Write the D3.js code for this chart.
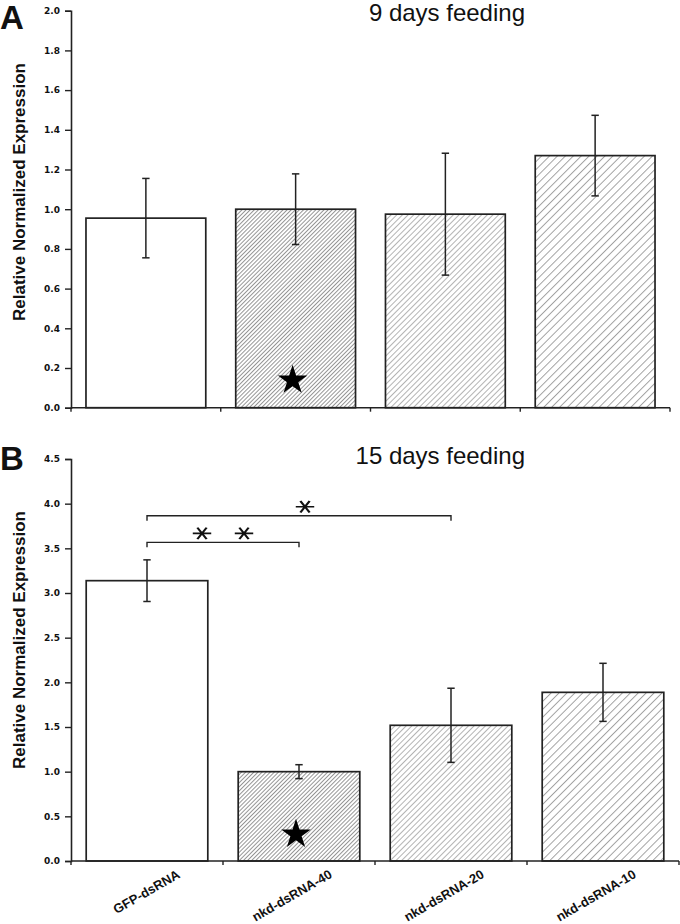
<!DOCTYPE html>
<meta charset="utf-8">
<style>
    body { margin: 0; background: #fff; }
    text { fill: #111; }
    .tick-label { font: bold 9px "DejaVu Sans", sans-serif; }
    .y-title { font: bold 17px "Liberation Sans", Arial, sans-serif; }
    .panel-title { font: 24px "Liberation Sans", Arial, sans-serif; }
    .panel-letter { font: bold 33px "Liberation Sans", Arial, sans-serif; }
    .x-label { font: bold 13px "Liberation Sans", Arial, sans-serif; }
</style>

<body>
    <script src="https://d3js.org/d3.v7.min.js"></script>
    <svg width="680" height="924"></svg>
    <script>
        // data
        var categories = ["GFP-dsRNA", "nkd-dsRNA-40", "nkd-dsRNA-20", "nkd-dsRNA-10"];
        var day9Mean = [0.955, 1.0, 0.975, 1.27];
        var day9Err = [0.20, 0.178, 0.307, 0.203];
        var day15Mean = [3.138, 1.0, 1.519, 1.888];
        var day15Err = [0.233, 0.078, 0.415, 0.325];
        var day9Ticks = [0, 0.2, 0.4, 0.6, 0.8, 1.0, 1.2, 1.4, 1.6, 1.8, 2.0];
        var day15Ticks = [0, 0.5, 1.0, 1.5, 2.0, 2.5, 3.0, 3.5, 4.0, 4.5];
        // significance brackets (panel B)
        var sigFrom = [0, 0];
        var sigTo = [1, 2];
        var sigY = [3.567, 3.865];
        var sigStars = [2, 1];
        // star markers inside nkd-dsRNA-40 bars
        var day9Star = 0.138;
        var day15Star = 0.298;

        var svg = d3.select("svg");
        var ink = "#222";

        // hatch patterns: perpendicular spacing, line colour
        var hatches = [null, [2.9, "#8a8a8a"], [4.0, "#aaaaaa"], [5.6, "#999999"]];
        var defs = svg.append("defs");
        hatches.forEach(function(h, i) {
            if (!h) return;
            var p = defs.append("pattern")
                .attr("id", "hatch" + i)
                .attr("patternUnits", "userSpaceOnUse")
                .attr("width", h[0])
                .attr("height", h[0])
                .attr("patternTransform", "rotate(45)");
            p.append("rect").attr("width", h[0]).attr("height", h[0]).attr("fill", "#fff");
            p.append("line")
                .attr("x1", 0.5).attr("y1", 0)
                .attr("x2", 0.5).attr("y2", h[0])
                .attr("stroke", h[1])
                .attr("stroke-width", 0.9);
        });

        function panel(opt) {
            var x = d3.scaleBand()
                .domain(categories)
                .range([opt.left, opt.right])
                .paddingInner(0.2)
                .paddingOuter(0.1);
            var y = d3.scaleLinear().domain(opt.domain).range([opt.bottom, opt.top]);
            var g = svg.append("g");

            // left axis
            g.append("g")
                .attr("transform", "translate(" + opt.left + ",0)")
                .call(d3.axisLeft(y).tickValues(opt.ticks).tickFormat(d3.format(".1f")).tickSizeOuter(0).tickSize(6).tickPadding(5))
                .call(function(a) {
                    a.select(".domain").attr("stroke", ink).attr("stroke-width", 1.6);
                    a.selectAll(".tick line").attr("stroke", ink).attr("stroke-width", 1.4);
                    a.selectAll("text").attr("class", "tick-label").attr("fill", "#111");
                });

            // bars
            var data = categories.map(function(c, i) {
                return { cat: c, v: opt.mean[i], e: opt.err[i], i: i };
            });
            g.selectAll(".bar")
                .data(data)
                .enter().append("rect")
                .attr("class", "bar")
                .attr("x", function(d) { return x(d.cat); })
                .attr("y", function(d) { return y(d.v); })
                .attr("width", x.bandwidth())
                .attr("height", function(d) { return y(0) - y(d.v); })
                .attr("fill", function(d) { return d.i === 0 ? "#fff" : "url(#hatch" + d.i + ")"; })
                .attr("stroke", ink)
                .attr("stroke-width", 1.7);

            // bottom axis line with ticks at band boundaries
            var step = x.step();
            var bounds = d3.range(categories.length + 1).map(function(k) {
                return x(categories[0]) - step * 0.1 + k * step;
            });
            g.append("line")
                .attr("x1", opt.left).attr("x2", opt.right)
                .attr("y1", y(0)).attr("y2", y(0))
                .attr("stroke", ink).attr("stroke-width", 1.6);
            g.selectAll(".xtick")
                .data(bounds)
                .enter().append("line")
                .attr("x1", function(d) { return d; })
                .attr("x2", function(d) { return d; })
                .attr("y1", y(0)).attr("y2", y(0) + 4)
                .attr("stroke", ink).attr("stroke-width", 1.4);

            // error bars
            var cx = function(d) { return x(d.cat) + x.bandwidth() / 2; };
            var eg = g.selectAll(".err").data(data).enter().append("g").attr("class", "err");
            eg.append("line")
                .attr("x1", cx).attr("x2", cx)
                .attr("y1", function(d) { return y(d.v + d.e); })
                .attr("y2", function(d) { return y(d.v - d.e); })
                .attr("stroke", ink).attr("stroke-width", 1.5);
            [1, -1].forEach(function(s) {
                eg.append("line")
                    .attr("x1", function(d) { return cx(d) - 3.7; })
                    .attr("x2", function(d) { return cx(d) + 3.7; })
                    .attr("y1", function(d) { return y(d.v + s * d.e); })
                    .attr("y2", function(d) { return y(d.v + s * d.e); })
                    .attr("stroke", ink).attr("stroke-width", 1.5);
            });

            // star marker
            g.append("path")
                .attr("d", d3.symbol().type(d3.symbolStar).size(270)())
                .attr("transform", "translate(" + (cx(data[1]) - 3) + "," + y(opt.star) + ")")
                .attr("fill", "#000");

            // titles
            g.append("text")
                .attr("class", "y-title")
                .attr("text-anchor", "middle")
                .attr("transform", "translate(25," + opt.labelY + ")rotate(-90)")
                .text("Relative Normalized Expression");
            g.append("text")
                .attr("class", "panel-title")
                .attr("text-anchor", "end")
                .attr("x", 525)
                .attr("y", opt.titleY)
                .text(opt.title);
            g.append("text")
                .attr("class", "panel-letter")
                .attr("x", 0)
                .attr("y", opt.letterY)
                .text(opt.letter);

            return { g: g, x: x, y: y, cx: function(i) { return cx(data[i]); } };
        }

        var a = panel({
            left: 71, right: 670, top: 10.7, bottom: 407.7,
            domain: [0, 2], ticks: day9Ticks,
            mean: day9Mean, err: day9Err, star: day9Star,
            title: "9 days feeding", titleY: 21, letter: "A", letterY: 29, labelY: 192
        });

        var b = panel({
            left: 71, right: 679, top: 459, bottom: 861,
            domain: [0, 4.5], ticks: day15Ticks,
            mean: day15Mean, err: day15Err, star: day15Star,
            title: "15 days feeding", titleY: 464, letter: "B", letterY: 470, labelY: 640
        });

        // category labels under panel B
        b.g.selectAll(".x-label")
            .data(categories)
            .enter().append("text")
            .attr("class", "x-label")
            .attr("text-anchor", "end")
            .attr("transform", function(d, i) {
                return "translate(" + (b.cx(i) + 34) + "," + (b.y(0) + 16) + ")rotate(-30)";
            })
            .text(function(d) { return d; });

        // significance brackets
        var asterisk = d3.symbol().type(d3.symbolAsterisk).size(240)();
        sigY.forEach(function(v, k) {
            var x1 = b.cx(sigFrom[k]), x2 = b.cx(sigTo[k]), yy = b.y(v);
            b.g.append("path")
                .attr("d", "M" + x1 + "," + (yy + 5) + "V" + yy + "H" + x2 + "V" + (yy + 5))
                .attr("fill", "none")
                .attr("stroke", ink)
                .attr("stroke-width", 1.4);
            var mid = (x1 + x2) / 2;
            var xs = sigStars[k] === 2 ? [mid - 21, mid + 21] : [mid + 6];
            xs.forEach(function(sx) {
                b.g.append("path")
                    .attr("d", asterisk)
                    .attr("transform", "translate(" + sx + "," + (yy - 9) + ")scale(1.0,0.72)rotate(90)")
                    .attr("fill", "none")
                    .attr("stroke", "#111")
                    .attr("stroke-width", 2.3);
            });
        });
    </script>
</body>
